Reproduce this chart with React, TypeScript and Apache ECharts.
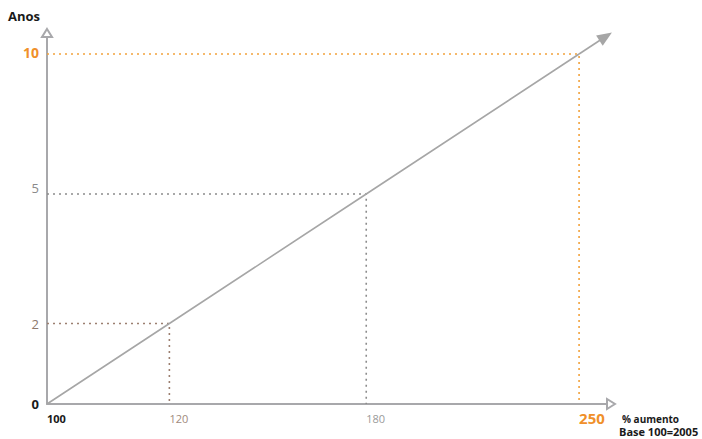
import React, { useEffect, useRef } from "react";
import * as echarts from "echarts";

// Steps of the schematic: years vs. % increase (base 100 = 2005)
const years = [0, 2, 5, 10];
const increase = [100, 120, 180, 250];
// where each step sits on the drawn (schematic, non-linear) scale of both axes
const stepPos = [0, 2.3, 6.0, 10];

const FONT = "'Open Sans', 'Noto Sans', sans-serif";
const GUIDE_COLORS = ["", "#9c7f70", "#8c8c8c", "#f2a23c"];

export default function App() {
  const ref = useRef<HTMLDivElement>(null);
  useEffect(() => {
    if (!ref.current) return;
    const chart = echarts.init(ref.current, null, { renderer: "svg" });
    const idx = (v: number) => stepPos.findIndex((p) => Math.abs(p - v) < 1e-6);

    const guideSeries = [1, 2, 3].map((k) => ({
      type: "line",
      name: `guide-${years[k]}`,
      data: [
        [0, stepPos[k]],
        [stepPos[k], stepPos[k]],
        [stepPos[k], 0],
      ],
      symbol: "none",
      silent: true,
      z: 1,
      lineStyle: { type: [2, 4], width: 1.6, color: GUIDE_COLORS[k] },
    }));

    const option = {
      animation: false,
      grid: { left: 47, right: 91, top: 33, bottom: 35, outerBoundsMode: "none", containLabel: false },
      xAxis: {
        type: "value",
        min: 0,
        max: 10.6,
        axisLine: {
          show: true,
          lineStyle: { color: "#a8a8ab", width: 2 },
          symbol: ["none", "emptyTriangle"],
          symbolSize: [10, 8],
        },
        axisTick: { show: false },
        splitLine: { show: false },
        axisLabel: {
          customValues: stepPos,
          formatter: (v: number) => {
            const i = idx(v);
            return i < 0 ? "" : `{x${i}|${increase[i]}}`;
          },
          align: "left",
          verticalAlign: "top",
          margin: 9,
          fontFamily: FONT,
          rich: {
            x0: { color: "#1a1a1a", fontWeight: "bold", fontSize: 11, fontFamily: FONT },
            x1: { color: "#a08a7c", fontSize: 11, fontFamily: FONT },
            x2: { color: "#9a9a9a", fontSize: 11, fontFamily: FONT },
            x3: { color: "#f0902a", fontWeight: "bold", fontSize: 15, fontFamily: FONT, padding: [-3, 0, 0, 0] },
          },
        },
        name: "{a|% aumento}\n{b|Base 100=2005}",
        nameLocation: "end",
        nameGap: 8,
        nameTextStyle: {
          align: "left",
          verticalAlign: "top",
          padding: [8, 0, 0, 0],
          fontFamily: FONT,
          rich: {
            a: { color: "#1a1a1a", fontWeight: "bold", fontSize: 10, fontFamily: FONT, lineHeight: 13, padding: [0, 0, 0, 3] },
            b: { color: "#1a1a1a", fontWeight: "bold", fontSize: 11, fontFamily: FONT, lineHeight: 13 },
          },
        },
      },
      yAxis: {
        type: "value",
        min: 0,
        max: 10.6,
        axisLine: {
          show: true,
          lineStyle: { color: "#a8a8ab", width: 2 },
          symbol: ["none", "emptyTriangle"],
          symbolSize: [10, 8],
        },
        axisTick: { show: false },
        splitLine: { show: false },
        axisLabel: {
          customValues: stepPos,
          formatter: (v: number) => {
            const i = idx(v);
            return i < 0 ? "" : `{y${i}|${years[i]}}`;
          },
          align: "right",
          verticalAlign: "middle",
          margin: 8,
          fontFamily: FONT,
          rich: {
            y0: { color: "#1a1a1a", fontWeight: "bold", fontSize: 13, fontFamily: FONT },
            y1: { color: "#8d796d", fontSize: 13, fontFamily: FONT },
            y2: { color: "#8a8a8a", fontSize: 13, fontFamily: FONT, padding: [0, 0, 12, 0] },
            y3: { color: "#f0902a", fontWeight: "bold", fontSize: 14, fontFamily: FONT, padding: [0, 0, 3, 0] },
          },
        },
        name: "Anos",
        nameLocation: "end",
        nameGap: 11,
        nameTextStyle: {
          align: "right",
          verticalAlign: "bottom",
          padding: [0, 7, 0, 0],
          color: "#1a1a1a",
          fontWeight: "bold",
          fontSize: 13,
          fontFamily: FONT,
        },
      },
      series: [
        ...guideSeries,
        {
          type: "line",
          name: "trend",
          data: stepPos.map((p) => [p, p]),
          symbol: "none",
          silent: true,
          z: 3,
          lineStyle: { color: "#a6a6a6", width: 1.6 },
          markLine: {
            silent: true,
            symbol: ["none", "triangle"],
            symbolSize: [12, 15],
            label: { show: false },
            lineStyle: { color: "#a6a6a6", width: 1.6, type: "solid" },
            itemStyle: { color: "#a6a6a6" },
            emphasis: { disabled: true },
            data: [[{ coord: [10, 10] }, { coord: [10.5, 10.5] }]],
          },
        },
      ],
    };
    chart.setOption(option as any);
    return () => chart.dispose();
  }, []);

  return (
    <div
      ref={ref}
      style={{ position: "fixed", left: 0, top: 0, width: 702, height: 439, background: "#fff" }}
    />
  );
}
